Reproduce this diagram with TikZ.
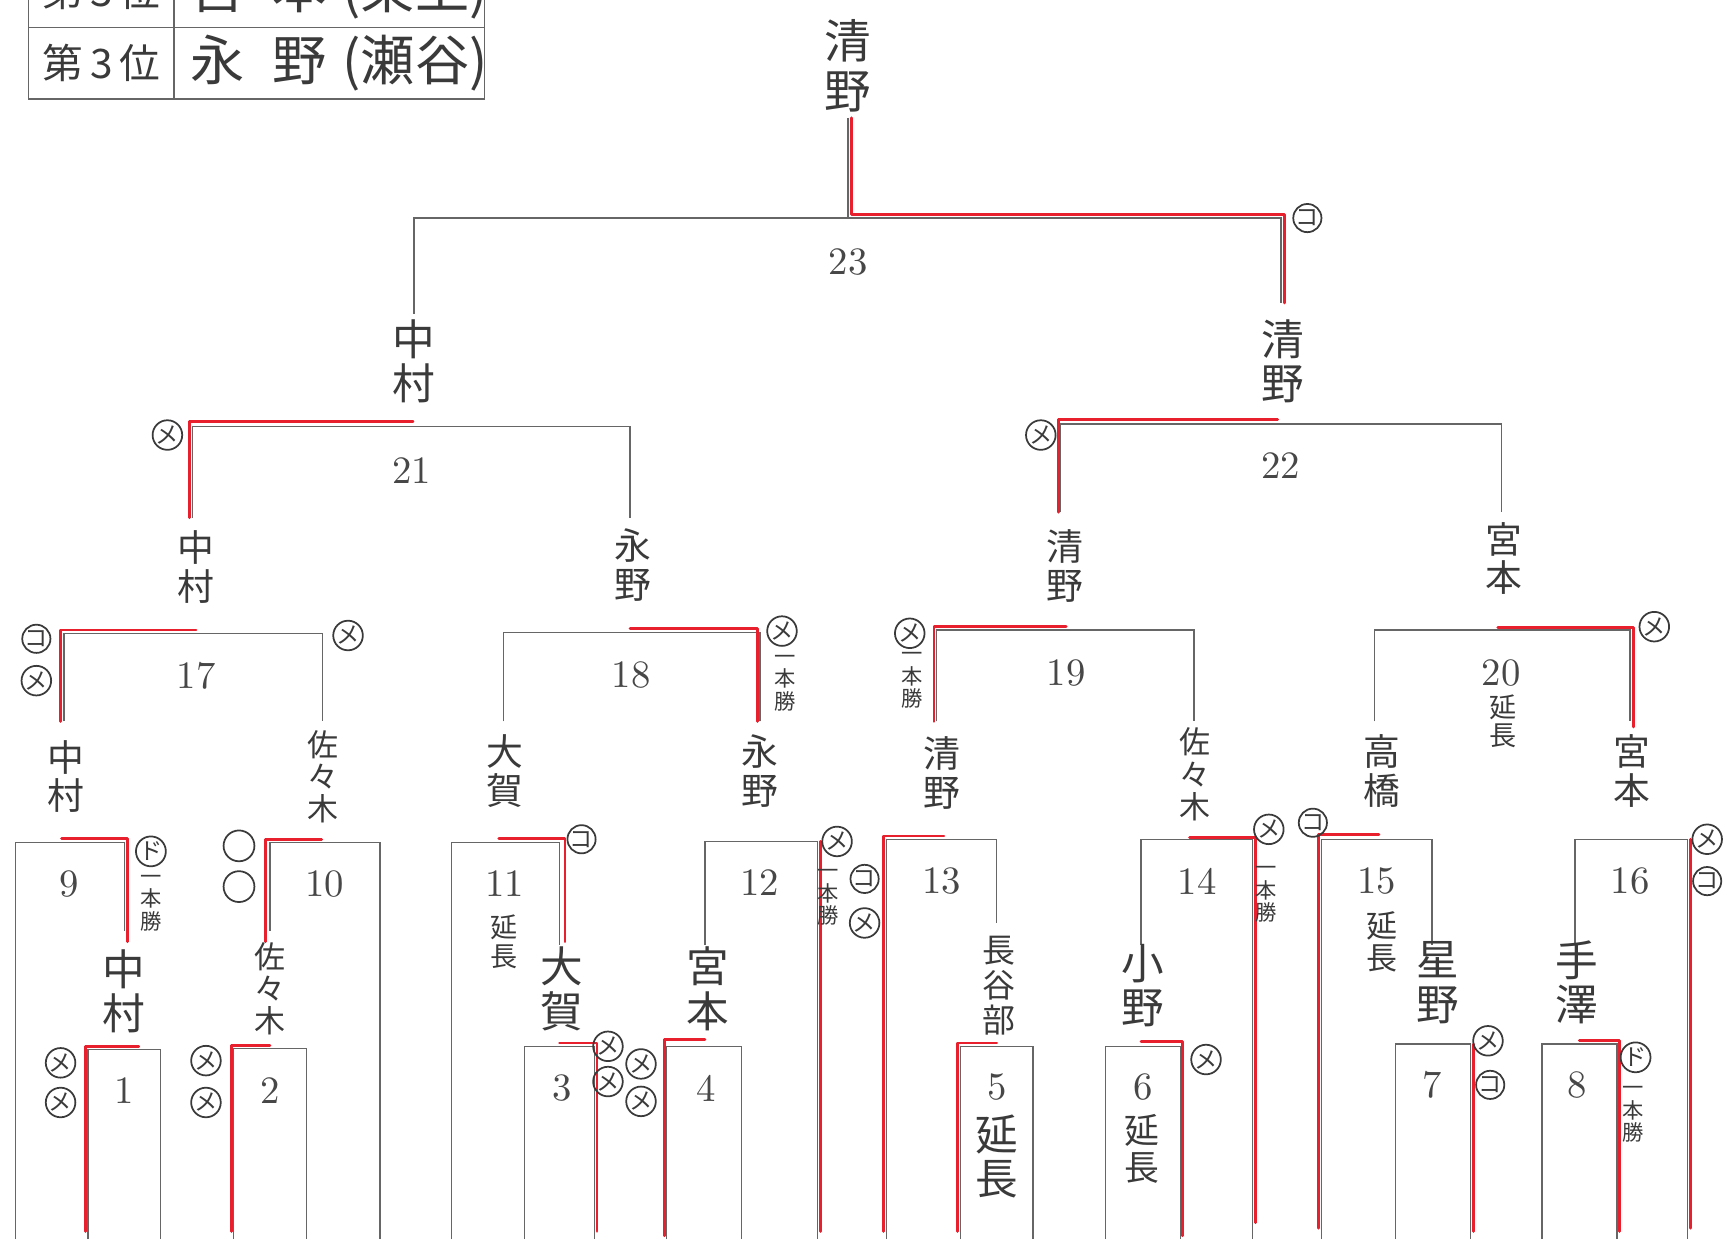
\documentclass[tikz,border=0pt]{standalone}
\usepackage{fontspec}
\newfontfamily\jpfont{Noto Sans CJK JP}
\usepackage{xcolor}
\usepackage{tikz}
\definecolor{ink}{HTML}{3A3A3A}
\definecolor{rule}{HTML}{666666}
\definecolor{win}{HTML}{E8202E}
\newcommand\fs[2]{\fontsize{#1}{#2}\selectfont}

\begin{document}
\begin{tikzpicture}[x=0.01cm,y=-0.01cm,
  line/.style={draw=rule, line width=0.35pt},
  won/.style={draw=win, line width=0.75pt, line cap=round, line join=round},
  num/.style={text=rule!70!black, inner sep=0pt, font=\fs{10}{10}},
  nm/.style={text=ink, align=center, inner sep=0pt, font=\jpfont\fs{9.5}{10}},
  big/.style={nm, font=\jpfont\fs{11}{11.5}},
  small/.style={nm, font=\jpfont\fs{8}{8.3}},
  tiny/.style={nm, font=\jpfont\fs{5.5}{5.8}},
  mk/.style={draw=ink, circle, line width=0.45pt, minimum size=0.25cm, inner sep=0pt,
    text=ink, font=\jpfont\fs{6}{6}},
  cell/.style={text=ink, inner sep=0pt}]
\clip (0,0) rectangle (1568,1125);
% table of places
\draw [line] (26,-40) -- (26,90) -- (440,90) -- (440,-40);
\draw [line] (26,25) -- (440,25);
\draw [line] (158,-40) -- (158,90);
\node [cell, font=\jpfont\fs{10.5}{11}] (pa) at (92,-8) {第\,3\,位};
\node [cell, font=\jpfont\fs{14}{14}] (qa) at (308,-8) {宮\hspace{0.5em}本\hspace{0.3em}(東上)};
\node [cell, font=\jpfont\fs{10.5}{11}] (pb) at (92,57) {第\,3\,位};
\node [cell, font=\jpfont\fs{14}{14}] (qb) at (308,57) {永\hspace{0.5em}野\hspace{0.3em}(瀬谷)};

% brackets
\draw [line] (770,107) -- (770,198);
\draw [line] (376,285) -- (376,198) -- (1163,198) -- (1163,275);
\draw [line] (175,470) -- (175,387) -- (572,387) -- (572,470);
\draw [line] (963,465) -- (963,385) -- (1363,385) -- (1363,465);
\draw [line] (58,655) -- (58,575) -- (293,575) -- (293,655);
\draw [line] (457,655) -- (457,574) -- (690,574) -- (690,655);
\draw [line] (850,655) -- (850,572) -- (1084,572) -- (1084,655);
\draw [line] (1248,655) -- (1248,572) -- (1480,572) -- (1480,655);
\draw [line] (14,1125) -- (14,765) -- (113,765) -- (113,845);
\draw [line] (245,845) -- (245,765) -- (345,765) -- (345,1125);
\draw [line] (410,1125) -- (410,765) -- (508,765) -- (508,858);
\draw [line] (640,858) -- (640,764) -- (742,764) -- (742,1125);
\draw [line] (805,1125) -- (805,762) -- (905,762) -- (905,838);
\draw [line] (1036,858) -- (1036,762) -- (1137,762) -- (1137,1125);
\draw [line] (1200,1125) -- (1200,762) -- (1300,762) -- (1300,858);
\draw [line] (1430,858) -- (1430,762) -- (1532,762) -- (1532,1125);
\draw [line] (80,1125) -- (80,953) -- (146,953) -- (146,1125);
\draw [line] (212,1125) -- (212,952) -- (278,952) -- (278,1125);
\draw [line] (476,1125) -- (476,950) -- (540,950) -- (540,1125);
\draw [line] (605,1125) -- (605,950) -- (673,950) -- (673,1125);
\draw [line] (872,1125) -- (872,950) -- (938,950) -- (938,1125);
\draw [line] (1004,1125) -- (1004,950) -- (1072,950) -- (1072,1125);
\draw [line] (1267,1125) -- (1267,948) -- (1335,948) -- (1335,1125);
\draw [line] (1400,1125) -- (1400,948) -- (1468,948) -- (1468,1125);

% winners in red
\draw [won] (1166,275) -- (1166,195) -- (773,195) -- (773,107);
\draw [won] (172,470) -- (172,383) -- (375,383);
\draw [won] (961,465) -- (961,381) -- (1160,381);
\draw [won] (55,655) -- (55,572) -- (178,572);
\draw [won] (688,655) -- (688,571) -- (572,571);
\draw [won] (848,655) -- (848,569) -- (968,569);
\draw [won] (1483,660) -- (1483,570) -- (1360,570);
\draw [won] (116,855) -- (116,761) -- (56,761);
\draw [won] (241,855) -- (241,762) -- (292,762);
\draw [won] (513,855) -- (513,761) -- (453,761);
\draw [won] (745,1118) -- (745,764);
\draw [won] (802,1118) -- (802,759) -- (857,759);
\draw [won] (1140,1110) -- (1140,760) -- (1080,760);
\draw [won] (1197,1115) -- (1197,758) -- (1252,758);
\draw [won] (1535,1115) -- (1535,762);
\draw [won] (78,1118) -- (78,950) -- (126,950);
\draw [won] (210,1118) -- (210,949) -- (245,949);
\draw [won] (542,1118) -- (542,947) -- (508,947);
\draw [won] (603,1122) -- (603,944) -- (640,944);
\draw [won] (869,1118) -- (869,947) -- (905,947);
\draw [won] (1074,1122) -- (1074,946) -- (1036,946);
\draw [won] (1338,1118) -- (1338,948);
\draw [won] (1470,1118) -- (1470,945) -- (1434,945);

% match numbers
\foreach \n/\x/\y in {1/113/990, 2/245/990, 3/510/988, 4/641/988, 5/905/987,
  6/1038/987, 7/1300/985, 8/1432/985, 9/63/803, 10/295/803, 11/458/802,
  12/690/801, 13/855/800, 14/1087/800, 15/1250/800, 16/1480/800,
  17/178/614, 18/573/613, 19/968/611, 20/1363/611, 21/374/427,
  22/1163/423, 23/770/238}
  \node [num] (g\n) at (\x,\y) {\n};

% names
\node [big, font=\jpfont\fs{12}{13}] (champ) at (770,60) {清\\野};
\node [big] (f1) at (376,328) {中\\村};
\node [big] (f2) at (1165,328) {清\\野};
\node [nm] (s1) at (178,515) {中\\村};
\node [nm] (s2) at (575,513) {永\\野};
\node [nm] (s3) at (967,514) {清\\野};
\node [nm] (s4) at (1365,507) {宮\\本};
\node [nm] (q1) at (60,705) {中\\村};
\node [small] (q2) at (293,705) {佐\\々\\木};
\node [nm] (q3) at (458,700) {大\\賀};
\node [nm] (q4) at (690,700) {永\\野};
\node [nm] (q5) at (855,702) {清\\野};
\node [small] (q6) at (1085,703) {佐\\々\\木};
\node [nm] (q7) at (1255,700) {高\\橋};
\node [nm] (q8) at (1482,700) {宮\\本};
\node [big] (r1) at (112,900) {中\\村};
\node [small] (r2) at (245,898) {佐\\々\\木};
\node [big] (r3) at (510,898) {大\\賀};
\node [big] (r4) at (643,898) {宮\\本};
\node [small, font=\jpfont\fs{8.5}{9}] (r5) at (907,895) {長\\谷\\部};
\node [big] (r6) at (1038,895) {小\\野};
\node [big] (r7) at (1305,892) {星\\野};
\node [big] (r8) at (1432,892) {手\\澤};

% extra time and one-point wins
\node [small, font=\jpfont\fs{7}{7.3}] (e20) at (1365,655) {延\\長};
\node [small, font=\jpfont\fs{7}{7.3}] (e11) at (458,855) {延\\長};
\node [small] (e15) at (1255,855) {延\\長};
\node [big] (e5) at (905,1050) {延\\長};
\node [small, font=\jpfont\fs{9}{9.5}] (e6) at (1037,1043) {延\\長};
\node [tiny] (i18) at (713,620) {一\\本\\勝};
\node [tiny] (i19) at (828,618) {一\\本\\勝};
\node [tiny] (i9) at (137,820) {一\\本\\勝};
\node [tiny] (i12) at (752,815) {一\\本\\勝};
\node [tiny] (i14) at (1150,812) {一\\本\\勝};
\node [tiny] (i8) at (1483,1012) {一\\本\\勝};

% points
\node [mk] (k23) at (1187,198) {コ};
\node [mk] (k21) at (152,395) {メ};
\node [mk] (k22) at (945,395) {メ};
\node [mk] (k17a) at (33,580) {コ};
\node [mk] (k17b) at (33,618) {メ};
\node [mk] (k17c) at (316,577) {メ};
\node [mk] (k18) at (710,573) {メ};
\node [mk] (k19) at (826,575) {メ};
\node [mk] (k20) at (1502,569) {メ};
\node [mk] (k9) at (137,773) {ド};
\node [mk, minimum size=0.28cm] (k10a) at (217,768) {};
\node [mk, minimum size=0.28cm] (k10b) at (217,805) {};
\node [mk] (k11) at (528,762) {コ};
\node [mk] (k12a) at (760,764) {メ};
\node [mk] (k12b) at (785,798) {コ};
\node [mk] (k12c) at (785,838) {メ};
\node [mk] (k14) at (1152,753) {メ};
\node [mk] (k15) at (1192,747) {コ};
\node [mk] (k16a) at (1550,762) {メ};
\node [mk] (k16b) at (1550,800) {コ};
\node [mk] (k1a) at (55,965) {メ};
\node [mk] (k1b) at (55,1001) {メ};
\node [mk] (k2a) at (187,963) {メ};
\node [mk] (k2b) at (187,1001) {メ};
\node [mk] (k3a) at (552,950) {メ};
\node [mk] (k3b) at (552,982) {メ};
\node [mk] (k3c) at (582,966) {メ};
\node [mk] (k3d) at (582,1000) {メ};
\node [mk] (k6) at (1095,962) {メ};
\node [mk] (k7a) at (1351,945) {メ};
\node [mk] (k7b) at (1353,985) {コ};
\node [mk] (k8) at (1485,960) {ド};
\end{tikzpicture}
\end{document}
